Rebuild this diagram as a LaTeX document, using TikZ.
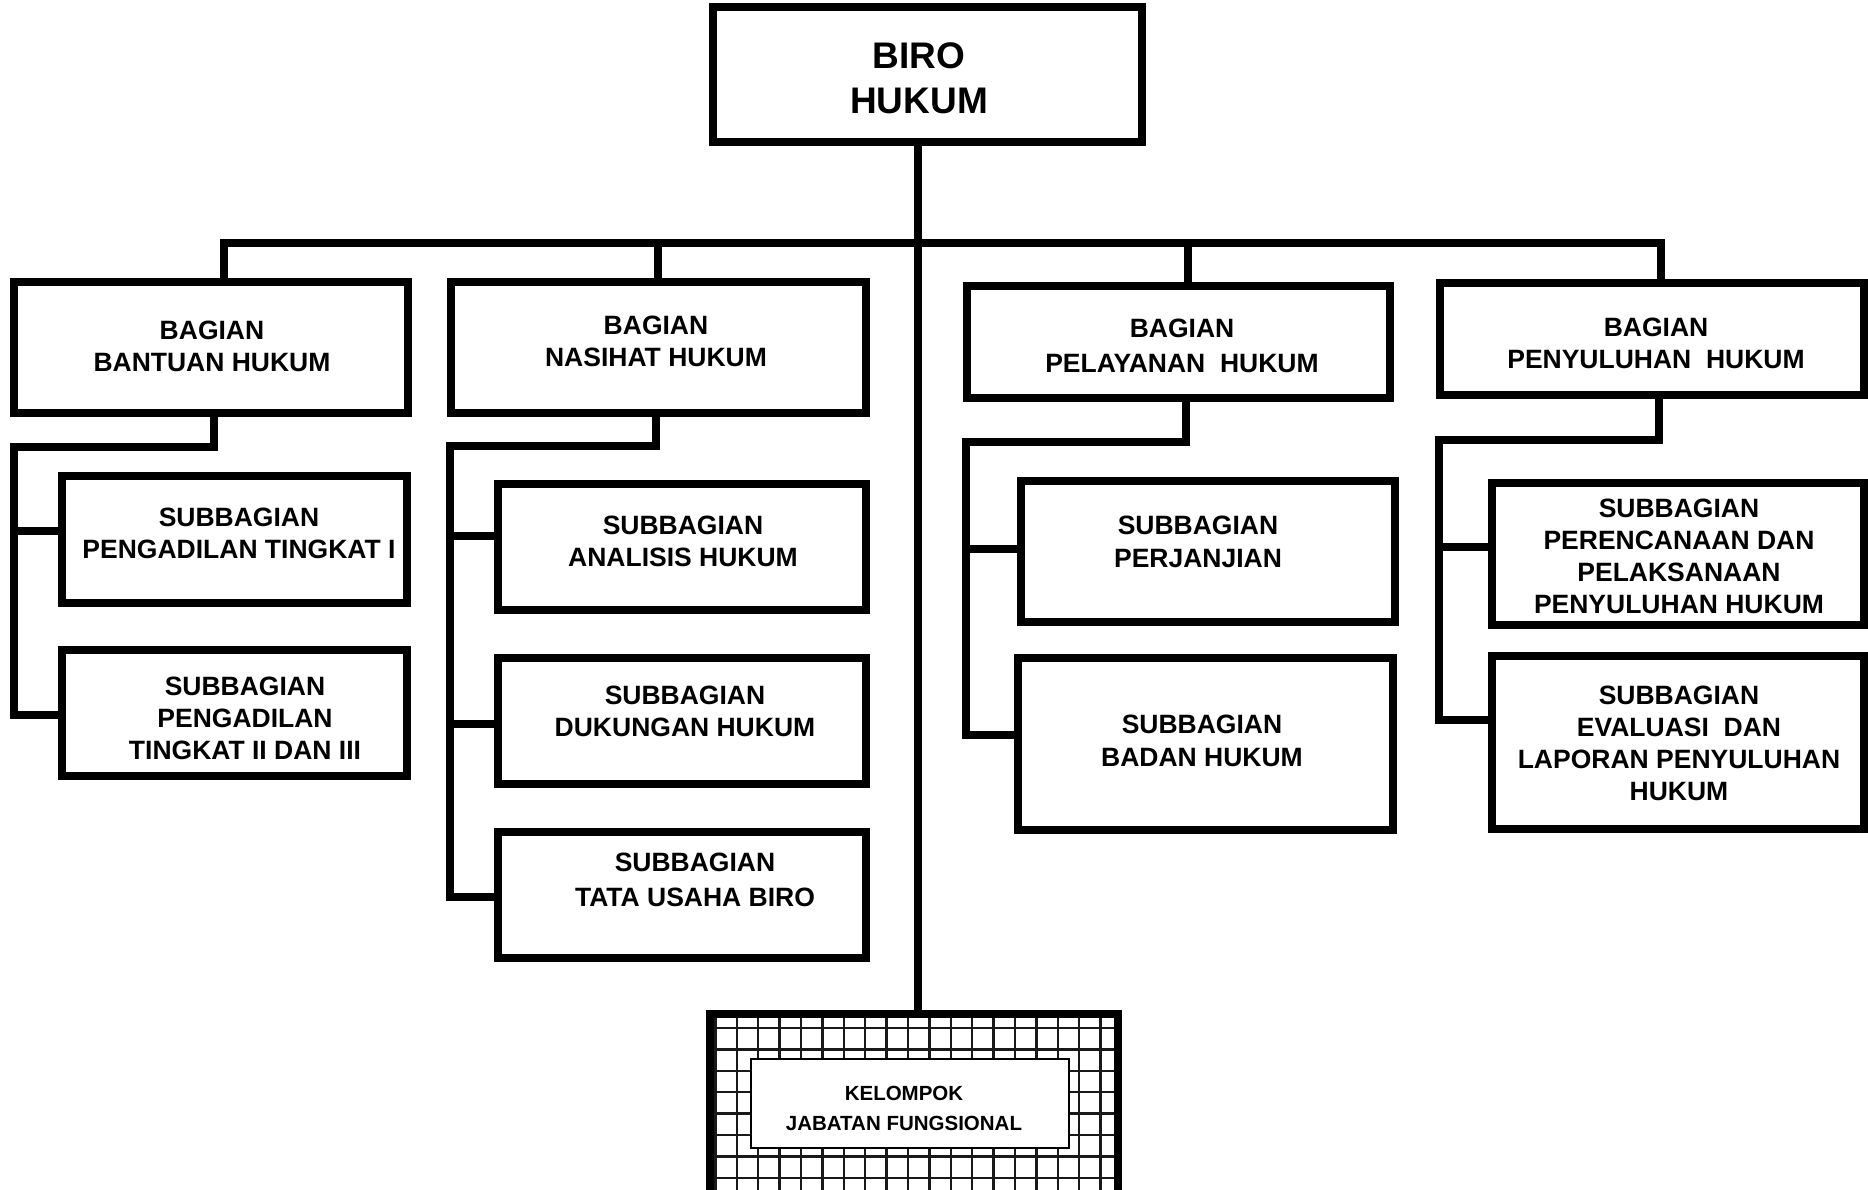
\documentclass[tikz,border=0pt]{standalone}
\usepackage{fontspec}
\setmainfont{Liberation Sans}
\begin{document}
\begin{tikzpicture}[x=1pt,y=-1pt,
  box/.style={draw, line width=8pt, fill=white, inner sep=0pt, outer sep=0pt, rectangle},
  lbl/.style={font=\fontsize{26.5}{32}\selectfont\bfseries, align=center, inner sep=0pt},
  conn/.style={line width=7.5pt, line cap=rect, line join=miter},
  gridl/.style={line width=2.4pt, black!90}]
\useasboundingbox (0,0) rectangle (1868,1190);
\newcommand\mybox[5]{\node[box, minimum width={(#4)-(#2)}, minimum height={(#5)-(#3)}] (#1) at ({((#2)+(#4))/2},{((#3)+(#5))/2}) {};}
% ---- boxes
\mybox{biro}{713}{7}{1142}{142}
\mybox{b1}{14}{282}{408}{413}
\mybox{b2}{451}{282}{866}{413}
\mybox{b3}{967}{286}{1390}{398}
\mybox{b4}{1440}{283}{1864}{395}
\mybox{s1}{62}{476}{407}{603}
\mybox{s2}{62}{650}{407}{776}
\mybox{s3}{498}{484}{866}{610}
\mybox{s4}{498}{658}{866}{784}
\mybox{s5}{498}{832}{866}{958}
\mybox{s6}{1021}{481}{1395}{622}
\mybox{s7}{1018}{658}{1393}{830}
\mybox{s8}{1492}{483}{1864}{625}
\mybox{s9}{1492}{656}{1864}{829}
% ---- texts
\node[lbl, font=\fontsize{37}{45}\selectfont\bfseries] (birot) at (919,78) {BIRO\\HUKUM};
\node[lbl] (b1t) at (212,346) {BAGIAN\\BANTUAN HUKUM};
\node[lbl] (b2t) at (656,341) {BAGIAN\\NASIHAT HUKUM};
\node[lbl, font=\fontsize{26.5}{35}\selectfont\bfseries] (b3t) at (1182,346) {BAGIAN\\PELAYANAN\ \ HUKUM};
\node[lbl] (b4t) at (1656,343) {BAGIAN\\PENYULUHAN\ \ HUKUM};
\node[lbl] (s1t) at (239,533) {SUBBAGIAN\\PENGADILAN TINGKAT I};
\node[lbl] (s2t) at (245,718) {SUBBAGIAN\\PENGADILAN\\TINGKAT II DAN III};
\node[lbl] (s3t) at (683,541) {SUBBAGIAN\\ANALISIS HUKUM};
\node[lbl] (s4t) at (685,711) {SUBBAGIAN\\DUKUNGAN HUKUM};
\node[lbl, font=\fontsize{26.5}{35}\selectfont\bfseries] (s5t) at (695,880) {SUBBAGIAN\\TATA USAHA BIRO};
\node[lbl, font=\fontsize{26.5}{33}\selectfont\bfseries] (s6t) at (1198,542) {SUBBAGIAN\\PERJANJIAN};
\node[lbl, font=\fontsize{26.5}{33}\selectfont\bfseries] (s7t) at (1202,741) {SUBBAGIAN\\BADAN HUKUM};
\node[lbl] (s8t) at (1679,556) {SUBBAGIAN\\PERENCANAAN DAN\\PELAKSANAAN\\PENYULUHAN HUKUM};
\node[lbl] (s9t) at (1679,743) {SUBBAGIAN\\EVALUASI\ \ DAN\\LAPORAN PENYULUHAN\\HUKUM};
% ---- bottom box (functional group)
\node[box, minimum width=408, minimum height=186] (jf) at (914,1107) {};
\begin{scope}
  \clip (706+8,1014+4) rectangle (1118-4,1200);
  \foreach \i in {0,...,19} \draw[gridl] ({715.3+21.4*\i},1010) -- ({715.3+21.4*\i},1200);
  \foreach \j in {0,...,8} \draw[gridl] (700,{1028+21.4*\j}) -- (1130,{1028+21.4*\j});
\end{scope}
\node[draw, line width=2pt, fill=white, minimum width=318, minimum height=89, inner sep=0pt, outer sep=0pt] (jfb) at (910,1103.5) {};
\node[font=\fontsize{20.5}{30}\selectfont\bfseries, align=center, inner sep=0pt] (jft) at (904,1108) {KELOMPOK\\JABATAN FUNGSIONAL};
% ---- main connectors
\coordinate (mx) at (918,243);
\coordinate (barL) at (226,243);
\coordinate (barR) at (1660,243);
\draw[conn] (biro.south -| mx) -- (jf.north -| mx);
\draw[conn] (barL) -- (barR);
\coordinate (t1) at (224,243);
\coordinate (t2) at (658,243);
\coordinate (t3) at (1188,243);
\coordinate (t4) at (1661,243);
\draw[conn] (t1) -- (b1.north -| t1);
\draw[conn] (t2) -- (b2.north -| t2);
\draw[conn] (t3) -- (b3.north -| t3);
\draw[conn] (t4) -- (b4.north -| t4);
% ---- column 1
\coordinate (d1) at (214,447); \coordinate (v1) at (14,447); \coordinate (e1) at (14,715);
\coordinate (k1a) at (14,531);
\draw[conn] (b1.south -| d1) -- (d1) -- (v1) -- (e1) -- (s2.west |- e1);
\draw[conn] (k1a) -- (s1.west |- k1a);
% ---- column 2
\coordinate (d2) at (656,446); \coordinate (v2) at (450,446); \coordinate (e2) at (450,897);
\coordinate (k2a) at (450,536); \coordinate (k2b) at (450,724);
\draw[conn] (b2.south -| d2) -- (d2) -- (v2) -- (e2) -- (s5.west |- e2);
\draw[conn] (k2a) -- (s3.west |- k2a);
\draw[conn] (k2b) -- (s4.west |- k2b);
% ---- column 3
\coordinate (d3) at (1186,442); \coordinate (v3) at (966,442); \coordinate (e3) at (966,735);
\coordinate (k3a) at (966,549);
\draw[conn] (b3.south -| d3) -- (d3) -- (v3) -- (e3) -- (s7.west |- e3);
\draw[conn] (k3a) -- (s6.west |- k3a);
% ---- column 4
\coordinate (d4) at (1659,440); \coordinate (v4) at (1439,440); \coordinate (e4) at (1439,720);
\coordinate (k4a) at (1439,547);
\draw[conn] (b4.south -| d4) -- (d4) -- (v4) -- (e4) -- (s9.west |- e4);
\draw[conn] (k4a) -- (s8.west |- k4a);
\end{tikzpicture}
\end{document}
